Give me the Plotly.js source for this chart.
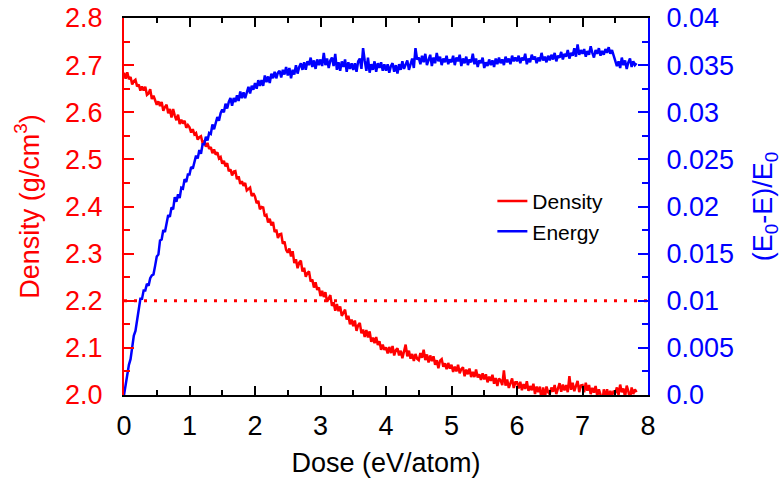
<!DOCTYPE html>
<html>
<head>
<meta charset="utf-8">
<script src="https://cdn.plot.ly/plotly-3.0.1.min.js"></script>
<style>html,body{margin:0;padding:0;background:#fff;}#chart{width:784px;height:482px;}</style>
</head>
<body>
<div id="chart"></div>
<script>
// ---- data ----
const doseStart = 0;      // eV/atom, first sample
const doseStep = 0.025;   // eV/atom between samples

const density = [
  2.684, 2.671, 2.685, 2.670, 2.675, 2.659, 2.666, 2.669, 2.655, 2.659, 2.646, 2.655, 2.646, 2.654, 2.637, 2.640, 2.649, 2.628, 2.635, 2.625,
  2.616, 2.623, 2.613, 2.622, 2.603, 2.611, 2.616, 2.598, 2.607, 2.589, 2.607, 2.593, 2.583, 2.595, 2.575, 2.584, 2.576, 2.582, 2.567, 2.573,
  2.568, 2.557, 2.564, 2.553, 2.556, 2.542, 2.547, 2.549, 2.535, 2.538, 2.527, 2.535, 2.522, 2.526, 2.513, 2.521, 2.510, 2.515, 2.502, 2.505,
  2.491, 2.497, 2.485, 2.492, 2.475, 2.479, 2.466, 2.474, 2.475, 2.458, 2.464, 2.448, 2.454, 2.444, 2.450, 2.434, 2.438, 2.440, 2.422, 2.428,
  2.421, 2.407, 2.412, 2.394, 2.399, 2.398, 2.379, 2.382, 2.366, 2.374, 2.360, 2.367, 2.346, 2.351, 2.333, 2.341, 2.342, 2.321, 2.326, 2.308,
  2.302, 2.311, 2.294, 2.305, 2.280, 2.288, 2.269, 2.281, 2.285, 2.262, 2.270, 2.251, 2.259, 2.262, 2.241, 2.245, 2.228, 2.239, 2.223, 2.228,
  2.210, 2.221, 2.208, 2.218, 2.198, 2.206, 2.212, 2.189, 2.197, 2.179, 2.193, 2.178, 2.188, 2.168, 2.175, 2.181, 2.160, 2.168, 2.150, 2.160,
  2.146, 2.158, 2.136, 2.148, 2.153, 2.131, 2.139, 2.123, 2.138, 2.122, 2.135, 2.113, 2.122, 2.110, 2.123, 2.106, 2.114, 2.096, 2.107, 2.096,
  2.101, 2.088, 2.102, 2.089, 2.104, 2.084, 2.095, 2.099, 2.084, 2.094, 2.078, 2.093, 2.107, 2.082, 2.094, 2.077, 2.087, 2.072, 2.087, 2.077,
  2.074, 2.089, 2.079, 2.096, 2.074, 2.086, 2.069, 2.084, 2.072, 2.082, 2.064, 2.074, 2.057, 2.073, 2.076, 2.060, 2.067, 2.055, 2.068, 2.056,
  2.064, 2.049, 2.060, 2.050, 2.064, 2.046, 2.055, 2.059, 2.040, 2.054, 2.044, 2.056, 2.038, 2.049, 2.038, 2.054, 2.037, 2.044, 2.032, 2.046,
  2.033, 2.044, 2.027, 2.039, 2.030, 2.043, 2.024, 2.036, 2.019, 2.035, 2.031, 2.021, 2.052, 2.020, 2.033, 2.015, 2.028, 2.035, 2.015, 2.027,
  2.027, 2.014, 2.028, 2.010, 2.023, 2.013, 2.029, 2.009, 2.019, 2.010, 2.024, 2.002, 2.018, 2.006, 2.018, 1.987, 2.016, 1.993, 2.018, 2.006,
  2.002, 2.016, 2.007, 2.021, 2.002, 2.016, 2.025, 2.007, 2.022, 2.010, 2.021, 2.006, 2.040, 2.011, 2.026, 2.008, 2.021, 2.030, 2.006, 2.020,
  2.021, 2.006, 2.026, 2.009, 2.021, 2.002, 2.015, 2.005, 2.019, 1.998, 2.012, 2.001, 1.978, 2.012, 1.995, 2.012, 1.997, 2.009, 1.998, 2.009,
  2.004, 2.016, 2.000, 2.022, 2.006, 2.014, 1.996, 2.020, 2.008, 1.990, 2.016, 2.002, 2.012, 2.006
];

const energy = [
  0.0000, 0.0012, 0.0019, 0.0032, 0.0038, 0.0051, 0.0063, 0.0068, 0.0081, 0.0089, 0.0102, 0.0102, 0.0111, 0.0111, 0.0118, 0.0116, 0.0124, 0.0127, 0.0128, 0.0137,
  0.0147, 0.0149, 0.0164, 0.0165, 0.0175, 0.0173, 0.0184, 0.0191, 0.0189, 0.0199, 0.0197, 0.0210, 0.0205, 0.0213, 0.0209, 0.0220, 0.0219, 0.0229, 0.0226, 0.0234,
  0.0234, 0.0242, 0.0240, 0.0248, 0.0254, 0.0251, 0.0260, 0.0256, 0.0266, 0.0266, 0.0274, 0.0270, 0.0278, 0.0277, 0.0287, 0.0282, 0.0290, 0.0295, 0.0291, 0.0299,
  0.0303, 0.0300, 0.0309, 0.0304, 0.0311, 0.0315, 0.0307, 0.0315, 0.0311, 0.0318, 0.0312, 0.0322, 0.0315, 0.0321, 0.0315, 0.0322, 0.0327, 0.0320, 0.0328, 0.0324,
  0.0331, 0.0325, 0.0334, 0.0328, 0.0334, 0.0328, 0.0339, 0.0332, 0.0338, 0.0331, 0.0341, 0.0336, 0.0343, 0.0336, 0.0342, 0.0344, 0.0337, 0.0345, 0.0340, 0.0348,
  0.0339, 0.0347, 0.0336, 0.0345, 0.0340, 0.0350, 0.0341, 0.0348, 0.0352, 0.0345, 0.0353, 0.0345, 0.0354, 0.0350, 0.0358, 0.0348, 0.0355, 0.0346, 0.0356, 0.0350,
  0.0356, 0.0349, 0.0363, 0.0350, 0.0357, 0.0347, 0.0355, 0.0358, 0.0349, 0.0362, 0.0345, 0.0353, 0.0344, 0.0354, 0.0348, 0.0356, 0.0343, 0.0353, 0.0346, 0.0352,
  0.0345, 0.0352, 0.0343, 0.0354, 0.0357, 0.0346, 0.0368, 0.0355, 0.0344, 0.0358, 0.0342, 0.0351, 0.0345, 0.0354, 0.0343, 0.0352, 0.0347, 0.0353, 0.0344, 0.0351,
  0.0344, 0.0351, 0.0342, 0.0349, 0.0352, 0.0343, 0.0350, 0.0341, 0.0351, 0.0345, 0.0354, 0.0346, 0.0351, 0.0355, 0.0345, 0.0352, 0.0357, 0.0347, 0.0368, 0.0356,
  0.0358, 0.0351, 0.0360, 0.0353, 0.0362, 0.0350, 0.0357, 0.0361, 0.0349, 0.0358, 0.0352, 0.0363, 0.0354, 0.0359, 0.0350, 0.0357, 0.0353, 0.0360, 0.0351, 0.0356,
  0.0353, 0.0360, 0.0350, 0.0358, 0.0354, 0.0361, 0.0349, 0.0357, 0.0352, 0.0359, 0.0350, 0.0356, 0.0353, 0.0362, 0.0351, 0.0357, 0.0348, 0.0355, 0.0352, 0.0358,
  0.0347, 0.0353, 0.0349, 0.0356, 0.0350, 0.0355, 0.0348, 0.0357, 0.0351, 0.0358, 0.0352, 0.0356, 0.0350, 0.0359, 0.0353, 0.0357, 0.0351, 0.0360, 0.0354, 0.0358,
  0.0354, 0.0360, 0.0352, 0.0358, 0.0355, 0.0362, 0.0351, 0.0357, 0.0353, 0.0361, 0.0356, 0.0359, 0.0352, 0.0358, 0.0354, 0.0363, 0.0355, 0.0359, 0.0353, 0.0360,
  0.0355, 0.0361, 0.0356, 0.0363, 0.0354, 0.0360, 0.0358, 0.0364, 0.0356, 0.0362, 0.0359, 0.0366, 0.0357, 0.0363, 0.0360, 0.0368, 0.0359, 0.0372, 0.0361, 0.0366,
  0.0362, 0.0367, 0.0359, 0.0365, 0.0361, 0.0370, 0.0363, 0.0358, 0.0366, 0.0362, 0.0368, 0.0360, 0.0365, 0.0361, 0.0367, 0.0363, 0.0369, 0.0362, 0.0366, 0.0360,
  0.0356, 0.0349, 0.0354, 0.0347, 0.0358, 0.0350, 0.0355, 0.0346, 0.0353, 0.0357, 0.0348, 0.0354, 0.0350, 0.0352
];

const refLineDose = [0, 8];
const refLineDensity = [2.2, 2.2];

const xTickVals = [0, 1, 2, 3, 4, 5, 6, 7, 8];
const yTickVals = [2.0, 2.1, 2.2, 2.3, 2.4, 2.5, 2.6, 2.7, 2.8];
const yTickText = ['2.0', '2.1', '2.2', '2.3', '2.4', '2.5', '2.6', '2.7', '2.8'];
const y2TickVals = [0, 0.005, 0.01, 0.015, 0.02, 0.025, 0.03, 0.035, 0.04];
const y2TickText = ['0.0', '0.005', '0.01', '0.015', '0.02', '0.025', '0.03', '0.035', '0.04'];

// ---- styles ----
const FONT = '"Liberation Sans", Arial, Helvetica, sans-serif';
const RED = '#ff0000';
const BLUE = '#0000ff';

const traces = [
  {
    type: 'scatter', mode: 'lines', name: 'Density',
    x0: doseStart, dx: doseStep, y: density,
    line: { color: RED, width: 2.5 }, yaxis: 'y'
  },
  {
    type: 'scatter', mode: 'lines', name: 'Energy',
    x0: doseStart, dx: doseStep, y: energy,
    line: { color: BLUE, width: 2.5 }, yaxis: 'y2'
  },
  {
    type: 'scatter', mode: 'lines', showlegend: false, hoverinfo: 'skip',
    x: refLineDose, y: refLineDensity,
    line: { color: RED, width: 3, dash: '3px,7px' }, yaxis: 'y'
  }
];

const layout = {
  width: 784, height: 482,
  margin: { l: 124, r: 136, t: 18, b: 87, pad: 0 },
  paper_bgcolor: '#ffffff', plot_bgcolor: '#ffffff',
  font: { family: FONT, size: 27, color: '#000' },
  showlegend: true,
  legend: {
    x: 0.703, y: 0.568, xanchor: 'left', yanchor: 'top',
    font: { family: FONT, size: 21, color: '#000' },
    bgcolor: 'rgba(0,0,0,0)', borderwidth: 0
  },
  xaxis: {
    range: [0, 8], tickmode: 'array', tickvals: xTickVals,
    ticks: 'inside', ticklen: 9, tickwidth: 2, tickcolor: '#000',
    showline: true, linecolor: '#000', linewidth: 2, mirror: 'ticks',
    showgrid: false, zeroline: false,
    tickfont: { family: FONT, size: 27, color: '#000' },
    ticklabelstandoff: 6,
    minor: { dtick: 0.5, tick0: 0, ticks: 'inside', ticklen: 5, tickwidth: 2, tickcolor: '#000', showgrid: false },
    title: { text: 'Dose (eV/atom)', font: { family: FONT, size: 27, color: '#000' }, standoff: 13 }
  },
  yaxis: {
    range: [2.0, 2.8], tickmode: 'array', tickvals: yTickVals, ticktext: yTickText,
    ticks: 'inside', ticklen: 10, tickwidth: 2, tickcolor: RED,
    showline: true, linecolor: RED, linewidth: 2,
    showgrid: false, zeroline: false,
    tickfont: { family: FONT, size: 27, color: RED },
    ticklabelstandoff: 14,
    minor: { dtick: 0.05, tick0: 2.0, ticks: 'inside', ticklen: 6, tickwidth: 2, tickcolor: RED, showgrid: false },
    title: { text: 'Density (g/cm<sup>3</sup>)', font: { family: FONT, size: 27, color: RED }, standoff: 18 }
  },
  yaxis2: {
    overlaying: 'y', side: 'right',
    range: [0, 0.04], tickmode: 'array', tickvals: y2TickVals, ticktext: y2TickText,
    ticks: 'inside', ticklen: 10, tickwidth: 2, tickcolor: BLUE,
    showline: true, linecolor: BLUE, linewidth: 2,
    showgrid: false, zeroline: false,
    tickfont: { family: FONT, size: 27, color: BLUE },
    ticklabelstandoff: 11,
    minor: { dtick: 0.0025, tick0: 0, ticks: 'inside', ticklen: 6, tickwidth: 2, tickcolor: BLUE, showgrid: false },
    title: { text: '(E<sub>0</sub>-E)/E<sub>0</sub>', font: { family: FONT, size: 27, color: BLUE }, standoff: 20 }
  }
};

Plotly.newPlot('chart', traces, layout, { displayModeBar: false, staticPlot: true });
</script>
</body>
</html>
